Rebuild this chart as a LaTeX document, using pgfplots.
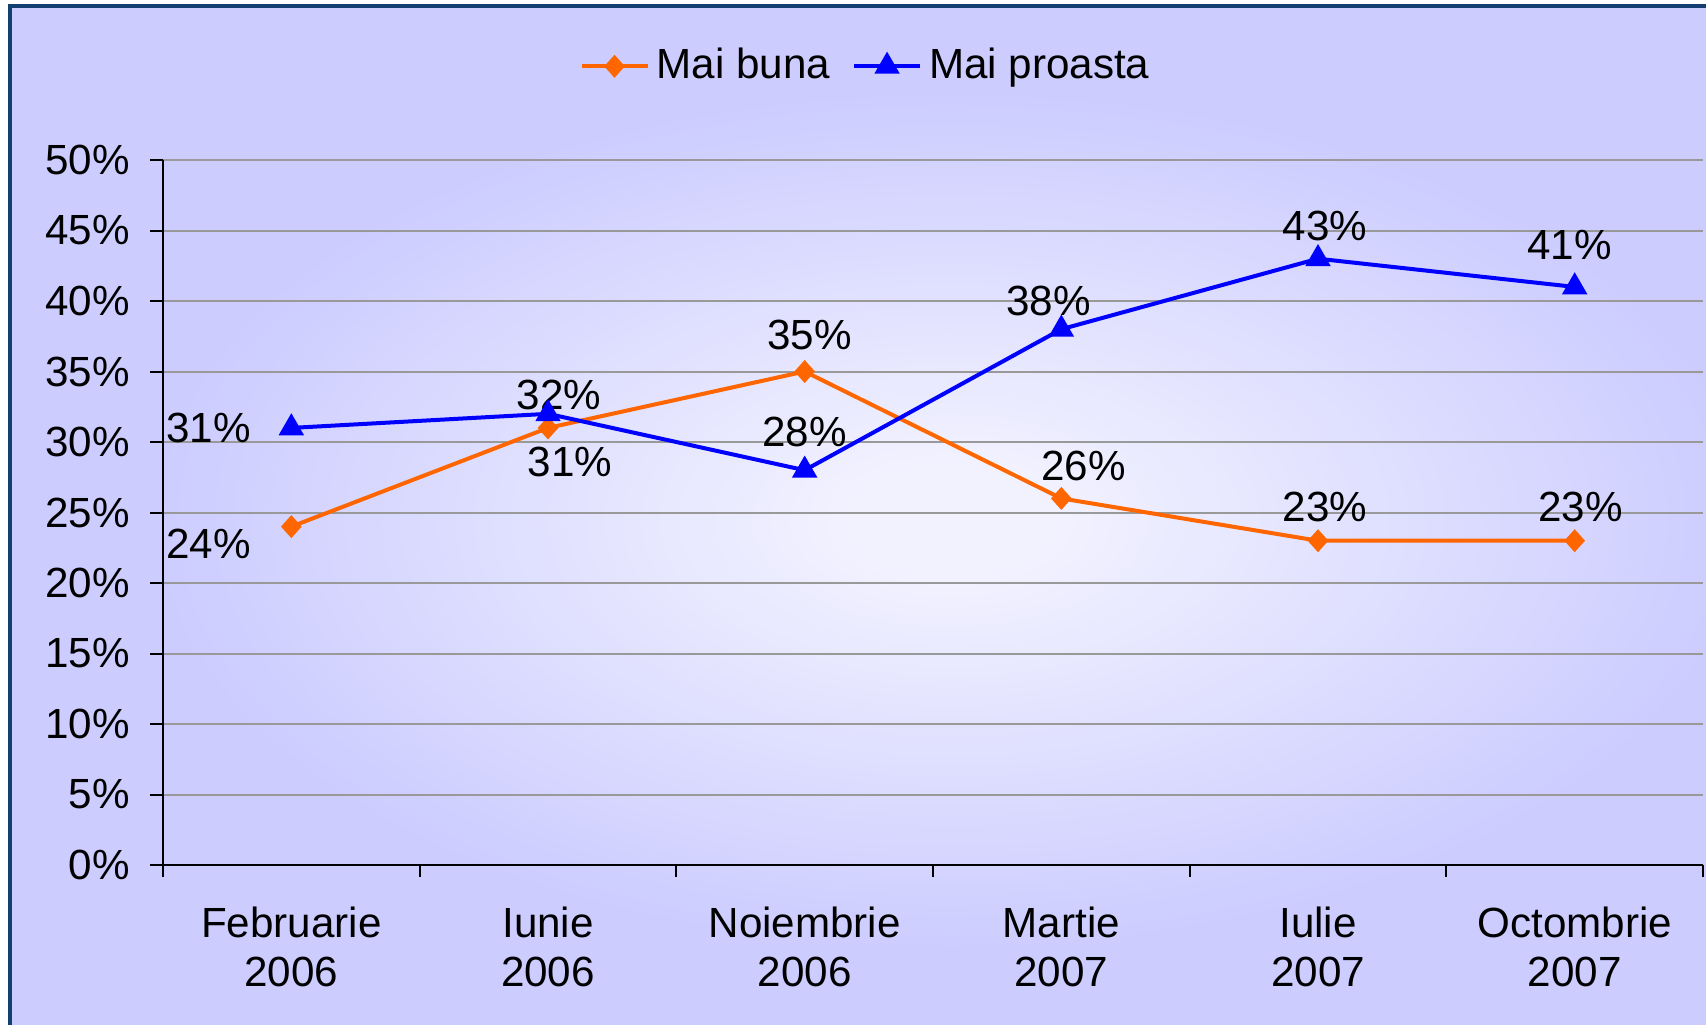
\documentclass[border=0pt]{standalone}
\usepackage{fontspec}
\setmainfont{Liberation Sans}
\usepackage{pgfplots}
\pgfplotsset{compat=1.18}
\definecolor{bgout}{HTML}{CCCCFF}
\definecolor{bgin}{HTML}{F2F2FF}
\definecolor{framec}{HTML}{123E72}
\definecolor{orng}{HTML}{FF6600}
\definecolor{blu}{HTML}{0000FF}
\pgfdeclareradialshading{chartbg}{\pgfpoint{0bp}{0bp}}{color(0bp)=(bgin); color(3bp)=(bgin); color(25bp)=(bgout); color(50bp)=(bgout)}
\newcommand{\lbl}{\fontsize{12}{14}\selectfont}
\begin{document}
\begin{tikzpicture}
\useasboundingbox (0,0) rectangle (170.6mm,102.4mm);
\clip (0,0) rectangle (170.6mm,102.4mm);
\fill[white] (0,0) rectangle (170.6mm,102.4mm);
\fill[bgout] (1mm,-10mm) rectangle (180mm,101.75mm);
\shade[shading=chartbg] (15mm,7.4mm) rectangle (175mm,93.4mm);
\draw[framec, line width=0.4mm] (1mm,-10mm) rectangle (180mm,101.75mm);
\begin{axis}[
  at={(16.3mm,15.9mm)}, anchor=south west,
  scale only axis, width=154mm, height=70.5mm,
  xmin=0, xmax=6, ymin=0, ymax=50,
  axis x line=bottom, axis y line=left,
  axis line style={-, line width=0.2mm, black},
  xtick={0.5,1.5,2.5,3.5,4.5,5.5},
  xticklabels={Februarie\\2006, Iunie\\2006, Noiembrie\\2006, Martie\\2007, Iulie\\2007, Octombrie\\2007},
  major x tick style={draw=none},
  minor xtick={0,1,2,3,4,5,6},
  minor x tick style={black, line width=0.2mm},
  minor tick length=1.2mm,
  ytick={0,5,...,50},
  y tick style={black, line width=0.2mm},
  major tick length=1.3mm,
  tick align=outside,
  ymajorgrids,
  grid style={black!40, line width=0.2mm},
  yticklabel={\pgfmathprintnumber{\tick}\%},
  /pgf/number format/assume math mode=true,
  ticklabel style={font=\lbl},
  yticklabel style={xshift=-0.8mm},
  xticklabel style={align=center, yshift=-1.65mm},
  legend style={at={(0.4578,1.1329)}, anchor=center, draw=none, fill=none,
    legend columns=-1, font=\lbl,
    /tikz/every even column/.append style={column sep=1.5mm}},
  legend image code/.code={\draw[mark repeat=2,mark phase=2,#1] plot coordinates {(0mm,0mm)(3.3mm,0mm)(6.6mm,0mm)};},
  clip=false,
]
\addplot[orng, line width=0.4mm, mark=diamond*, mark size=1mm, mark options={xscale=1.2, fill=orng, draw=orng, line width=0.2mm}]
  coordinates {(0.5,24) (1.5,31) (2.5,35) (3.5,26) (4.5,23) (5.5,23)};
\addlegendentry{Mai buna}
\addplot[blu, line width=0.4mm, mark=triangle*, mark size=1.27mm, mark options={fill=blu, draw=blu, line width=0.2mm}]
  coordinates {(0.5,31) (1.5,32) (2.5,28) (3.5,38) (4.5,43) (5.5,41)};
\addlegendentry{Mai proasta}
\begin{scope}[every node/.style={font=\lbl, inner sep=0pt}]
\node[xshift=-8.3mm, yshift=-1.7mm] at (axis cs:0.5,24) {24\%};
\node[xshift=2.2mm, yshift=-3.4mm] at (axis cs:1.5,31) {31\%};
\node[xshift=0.5mm, yshift=3.7mm] at (axis cs:2.5,35) {35\%};
\node[xshift=2.2mm, yshift=3.2mm] at (axis cs:3.5,26) {26\%};
\node[xshift=0.7mm, yshift=3.4mm] at (axis cs:4.5,23) {23\%};
\node[xshift=0.6mm, yshift=3.4mm] at (axis cs:5.5,23) {23\%};
\node[xshift=-8.3mm, yshift=0mm] at (axis cs:0.5,31) {31\%};
\node[xshift=1.1mm, yshift=1.9mm] at (axis cs:1.5,32) {32\%};
\node[xshift=0mm, yshift=3.8mm] at (axis cs:2.5,28) {28\%};
\node[xshift=-1.3mm, yshift=2.8mm] at (axis cs:3.5,38) {38\%};
\node[xshift=0.7mm, yshift=3.3mm] at (axis cs:4.5,43) {43\%};
\node[xshift=-0.5mm, yshift=4.2mm] at (axis cs:5.5,41) {41\%};
\end{scope}
\end{axis}
\end{tikzpicture}
\end{document}
